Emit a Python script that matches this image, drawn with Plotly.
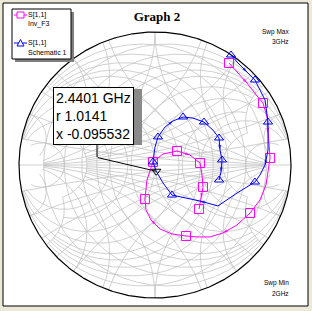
import numpy as np
import plotly.graph_objects as go

# ---- data: S[1,1] reflection coefficient (real / imag), sweep 2 GHz -> 3 GHz ----
inv_label = ["S[1,1]", "Inv_F3"]
inv_re = [0.544, 0.610, 0.676, 0.750, 0.794, 0.824, 0.831, 0.846, 0.816, 0.772, 0.699,
          0.603, 0.500, 0.404, 0.309, 0.228, 0.125, 0.037, -0.029, -0.066, -0.074,
          -0.059, -0.015, 0.059, 0.162, 0.257, 0.331, 0.346, 0.353, 0.338, 0.324]
inv_im = [0.767, 0.692, 0.617, 0.519, 0.466, 0.361, 0.241, 0.053, -0.150, -0.263, -0.361,
          -0.451, -0.511, -0.541, -0.541, -0.534, -0.519, -0.481, -0.414, -0.338, -0.256,
          -0.113, 0.023, 0.083, 0.105, 0.075, 0.015, -0.075, -0.165, -0.248, -0.331]
inv_marker_idx = [0, 4, 7, 10, 15, 20, 22, 24, 26, 28, 30]
inv_arrow_idx = [2, 6, 12, 18, 25, 29]

sch_label = ["S[1,1]", "Schematic 1"]
sch_re = [0.559, 0.610, 0.676, 0.735, 0.772, 0.809, 0.831, 0.831, 0.809, 0.772, 0.735,
          0.603, 0.463, 0.331, 0.125, 0.059, 0.009, -0.015, 0.000, 0.022, 0.074,
          0.132, 0.206, 0.279, 0.360, 0.426, 0.471, 0.478, 0.493, 0.485, 0.471]
sch_im = [0.827, 0.767, 0.699, 0.639, 0.564, 0.489, 0.323, 0.113, 0.000, -0.075, -0.128,
          -0.211, -0.308, -0.271, -0.226, -0.135, -0.047, 0.023, 0.135, 0.211, 0.286,
          0.331, 0.361, 0.353, 0.323, 0.263, 0.203, 0.113, 0.038, -0.053, -0.113]
sch_marker_idx = [0, 3, 6, 10, 14, 17, 19, 22, 24, 26, 28, 30]
sch_arrow_idx = [2, 8, 13, 21, 27, 29]

# marker readout
mk_freq = "2.4401 GHz"
mk_r = 1.0141
mk_x = -0.095532

title = "Graph 2"
swp_max = ["Swp Max", "3GHz"]
swp_min = ["Swp Min", "2GHz"]

# Smith grid values (impedance and admittance)
grid_main = [0.2, 0.5, 1.0, 2.0, 5.0]
grid_fine = [0.1, 0.3, 0.4, 0.7, 1.5, 3.0]

W, H = 312, 311
BG = "#ECE9D8"
GRID = "#C4C4C4"
MAG = "#FF00FF"
BLU = "#0000FF"


def gamma(z):
    return (z - 1) / (z + 1)


# ---- grid lines ----
gx, gy = [], []


def add(g):
    gx.extend(list(g.real) + [None])
    gy.extend(list(g.imag) + [None])


def grid_lines(v, lim):
    a = np.arctan(lim)
    th = np.linspace(-a, a, 400)
    g = gamma(v + 1j * np.tan(th))
    add(g)
    add(-g)
    tp = np.linspace(0, a, 300)
    for s in (1, -1):
        g = gamma(np.tan(tp) + 1j * s * v)
        add(g)
        add(-g)


for v in grid_main:
    grid_lines(v, 10.0)
for v in grid_fine:
    grid_lines(v, 3.0)
add(np.array([-1 + 0j, 1 + 0j]))

fig = go.Figure()
fig.add_trace(go.Scatter(x=gx, y=gy, mode="lines", line=dict(color=GRID, width=0.8),
                         hoverinfo="skip", showlegend=False))
ang = np.linspace(0, 2 * np.pi, 721)
fig.add_trace(go.Scatter(x=np.cos(ang), y=np.sin(ang), mode="lines",
                         line=dict(color="black", width=1.2), hoverinfo="skip", showlegend=False))


def add_series(re, im, midx, aidx, color, symbol, msize):
    fig.add_trace(go.Scatter(x=re, y=im, mode="lines", line=dict(color=color, width=1),
                             showlegend=False, hoverinfo="skip"))
    asz = [5 if i in aidx else 0 for i in range(len(re))]
    fig.add_trace(go.Scatter(x=re, y=im, mode="markers",
                             marker=dict(symbol="arrow", size=asz, color=color, angleref="previous",
                                         line=dict(width=0)),
                             showlegend=False, hoverinfo="skip"))
    fig.add_trace(go.Scatter(x=[re[i] for i in midx], y=[im[i] for i in midx], mode="markers",
                             marker=dict(symbol=symbol, size=msize, color=color, line=dict(width=1)),
                             showlegend=False, hoverinfo="skip"))


add_series(inv_re, inv_im, inv_marker_idx, inv_arrow_idx, MAG, "square-open", 9)
add_series(sch_re, sch_im, sch_marker_idx, sch_arrow_idx, BLU, "triangle-up-open", 8)

gm = gamma(complex(mk_r, mk_x))
fig.add_trace(go.Scatter(x=[gm.real], y=[gm.imag], mode="markers",
                         marker=dict(symbol="triangle-down-open", size=8, color="black", line=dict(width=1)),
                         showlegend=False, hoverinfo="skip"))


def px(x):
    return x / W


def py(y):
    return 1 - y / H


def rect(x0, y0, x1, y1, fill, lc=None, layer="above"):
    return dict(type="rect", xref="paper", yref="paper", x0=px(x0), x1=px(x1), y0=py(y1), y1=py(y0),
                fillcolor=fill, line=dict(color=lc or fill, width=1 if lc else 0), layer=layer)


def hline(x0, x1, y, color):
    return dict(type="line", xref="paper", yref="paper", x0=px(x0), x1=px(x1), y0=py(y), y1=py(y),
                line=dict(color=color, width=1), layer="above")


shapes = [
    rect(3, 3, 308, 306, "white", "black", "below"),
    # legend box with shadow
    rect(15, 12, 74, 62, "#7f7f7f"),
    rect(12, 9, 71, 59, "white", "black"),
    hline(14, 27, 15, MAG),
    rect(17, 12, 24, 18, "white", MAG),
    hline(14, 27, 43, BLU),
    dict(type="path", xref="paper", yref="paper", layer="above",
         path=f"M{px(17)},{py(46)} L{px(24)},{py(46)} L{px(20.5)},{py(39.5)} Z",
         line=dict(color=BLU, width=1), fillcolor="white"),
    # readout shadow
    rect(55, 89, 142, 145, "#8a8a8a"),
    dict(type="line", xref="paper", yref="paper", x0=px(97), x1=px(97), y0=py(143), y1=py(157),
         line=dict(color="black", width=1), layer="above"),
]


def label(x, y, text, anchor="left", size=7):
    return dict(x=px(x), y=py(y), xref="paper", yref="paper", xanchor=anchor, yanchor="middle",
                text=text, showarrow=False, font=dict(family="Arial", size=size, color="black"))


ann = [
    dict(x=gm.real, y=gm.imag, xref="x", yref="y", text="", showarrow=True, arrowhead=0,
         arrowwidth=1, arrowcolor="black", ax=-60, ay=-14, standoff=0),
    dict(x=px(53), y=py(87), xref="paper", yref="paper", xanchor="left", yanchor="top",
         text=f"{mk_freq}<br>r {mk_r}<br>x {mk_x}", align="left", showarrow=False,
         font=dict(family="Arial", size=14, color="black"), bgcolor="white",
         bordercolor="black", borderwidth=1, borderpad=2),
    label(291, 32, swp_max[0], "right", 6.5),
    label(291, 42, swp_max[1], "right", 6.5),
    label(291, 283, swp_min[0], "right", 6.5),
    label(291, 293, swp_min[1], "right", 6.5),
    label(26, 15, inv_label[0]),
    label(26, 24, inv_label[1]),
    label(26, 43, sch_label[0]),
    label(26, 52, sch_label[1]),
]

fig.update_layout(
    width=W, height=H, autosize=False, showlegend=False,
    margin=dict(l=0, r=0, t=0, b=0),
    paper_bgcolor=BG, plot_bgcolor="rgba(0,0,0,0)",
    xaxis=dict(range=[(0 - 155) / 136, (W - 155) / 136], visible=False, fixedrange=True),
    yaxis=dict(range=[(165 - H) / 133, 165 / 133], visible=False, fixedrange=True),
    title=dict(text="<b>" + title + "</b>", x=157 / W, xanchor="center", y=py(16), yanchor="middle",
               font=dict(family="Liberation Serif", size=13, color="black")),
    shapes=shapes, annotations=ann,
)

fig.write_html("out.html")
